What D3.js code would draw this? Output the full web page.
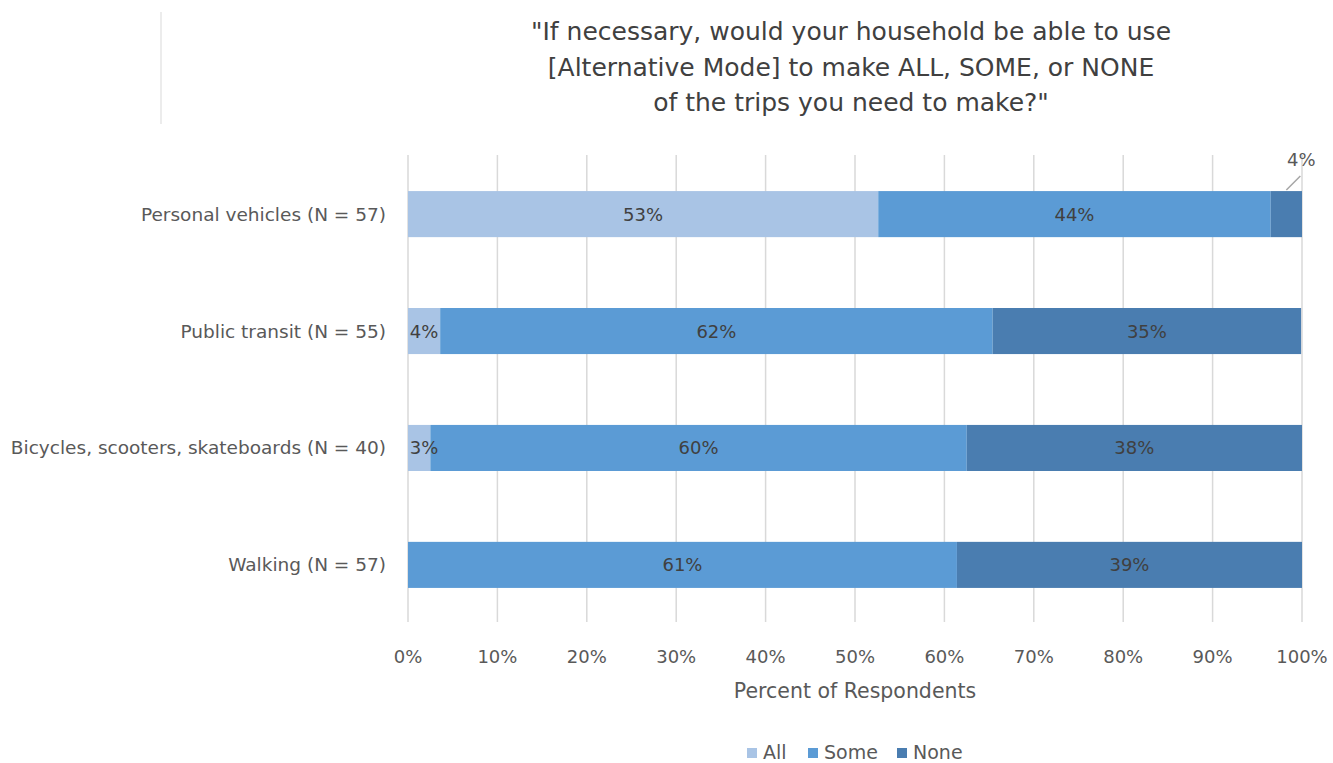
<!DOCTYPE html>
<html><head><meta charset="utf-8">
<script src="https://cdn.jsdelivr.net/npm/d3@7"></script>
<style>body{margin:0;background:#fff;} svg{display:block;font-family:"DejaVu Sans","Noto Sans",sans-serif;}</style>
</head><body>
<svg id="chart" width="1333" height="763"></svg>
<script>
const categories = ["Personal vehicles (N = 57)", "Public transit (N = 55)", "Bicycles, scooters, skateboards (N = 40)", "Walking (N = 57)"];
const seriesNames = ["All", "Some", "None"];
const allValues = [52.6, 3.6, 2.5, 0];
const someValues = [43.9, 61.8, 60.0, 61.4];
const noneValues = [3.5, 34.5, 37.5, 38.6];
const xTicks = [0, 10, 20, 30, 40, 50, 60, 70, 80, 90, 100];
const titleLines = ['"If necessary, would your household be able to use', '[Alternative Mode] to make ALL, SOME, or NONE', 'of the trips you need to make?"'];
const colors = ["#A9C4E5", "#5B9BD5", "#4A7DB0"];

const svg = d3.select("#chart");
const x = d3.scaleLinear().domain([0, 100]).range([408, 1302]);
const y = d3.scaleBand().domain(categories).range([156, 623]).paddingInner(0.606).paddingOuter(0.3);

// decorative vertical line
svg.append("line").attr("x1", 161).attr("x2", 161).attr("y1", 12).attr("y2", 124).attr("stroke", "#e6e6e6").attr("stroke-width", 1.5);

// title
svg.append("text").attr("x", 851).attr("y", 40).attr("text-anchor", "middle").attr("fill", "#404040").style("font-size", "25px")
  .selectAll("tspan").data(titleLines).join("tspan").attr("x", 851).attr("dy", (d, i) => i === 0 ? 0 : 35.5).text(d => d);

// gridlines
svg.append("g").selectAll("line").data(xTicks).join("line")
  .attr("x1", d => x(d)).attr("x2", d => x(d)).attr("y1", 155).attr("y2", 622)
  .attr("stroke", "#d9d9d9").attr("stroke-width", 1.5);

// stacked data
const rows = categories.map((c, i) => ({cat: c, All: allValues[i], Some: someValues[i], None: noneValues[i]}));
const stack = d3.stack().keys(seriesNames)(rows);

const g = svg.append("g");
stack.forEach((layer, si) => {
  g.selectAll(null).data(layer).join("rect")
    .attr("x", d => x(d[0])).attr("width", d => x(d[1]) - x(d[0]))
    .attr("y", d => y(d.data.cat)).attr("height", y.bandwidth())
    .attr("fill", colors[si]);
});

// labels
const fmt = v => d3.format(".0f")(v) + "%";
stack.forEach((layer, si) => {
  layer.forEach((d, i) => {
    const v = d[1] - d[0];
    if (v <= 0) return;
    const cy = y(d.data.cat) + y.bandwidth() / 2;
    if (si === 2 && i === 0) {
      // callout above the thin slice
      const cx = x((d[0] + d[1]) / 2);
      svg.append("line").attr("x1", cx).attr("y1", y(d.data.cat) - 1).attr("x2", cx + 14).attr("y2", y(d.data.cat) - 15)
        .attr("stroke", "#a6a6a6").attr("stroke-width", 1.5);
      svg.append("text").attr("x", cx + 15).attr("y", y(d.data.cat) - 25).attr("text-anchor", "middle").attr("fill", "#595959").style("font-size", "18px").text(fmt(v));
    } else {
      const cx = Math.max(x((d[0] + d[1]) / 2), x(0) + 16);
      svg.append("text").attr("x", cx).attr("y", cy + 6.5).attr("text-anchor", "middle").attr("fill", "#404040").style("font-size", "18px").text(fmt(v));
    }
  });
});

// category labels
svg.append("g").selectAll("text").data(categories).join("text")
  .attr("x", 386).attr("y", d => y(d) + y.bandwidth() / 2 + 6.5).attr("text-anchor", "end")
  .attr("fill", "#595959").style("font-size", "18.5px").text(d => d);

// x axis tick labels
svg.append("g").selectAll("text").data(xTicks).join("text")
  .attr("x", d => x(d)).attr("y", 663).attr("text-anchor", "middle")
  .attr("fill", "#595959").style("font-size", "18px").text(d => d + "%");

svg.append("text").attr("x", 855).attr("y", 698).attr("text-anchor", "middle").attr("fill", "#595959").style("font-size", "20.5px").text("Percent of Respondents");

// legend
const legendX = [747, 808, 897];
const lg = svg.append("g");
seriesNames.forEach((n, i) => {
  lg.append("rect").attr("x", legendX[i]).attr("y", 748).attr("width", 10).attr("height", 10).attr("fill", colors[i]);
  lg.append("text").attr("x", legendX[i] + 16).attr("y", 759).attr("fill", "#595959").style("font-size", "19px").text(n);
});
</script>
</body></html>
